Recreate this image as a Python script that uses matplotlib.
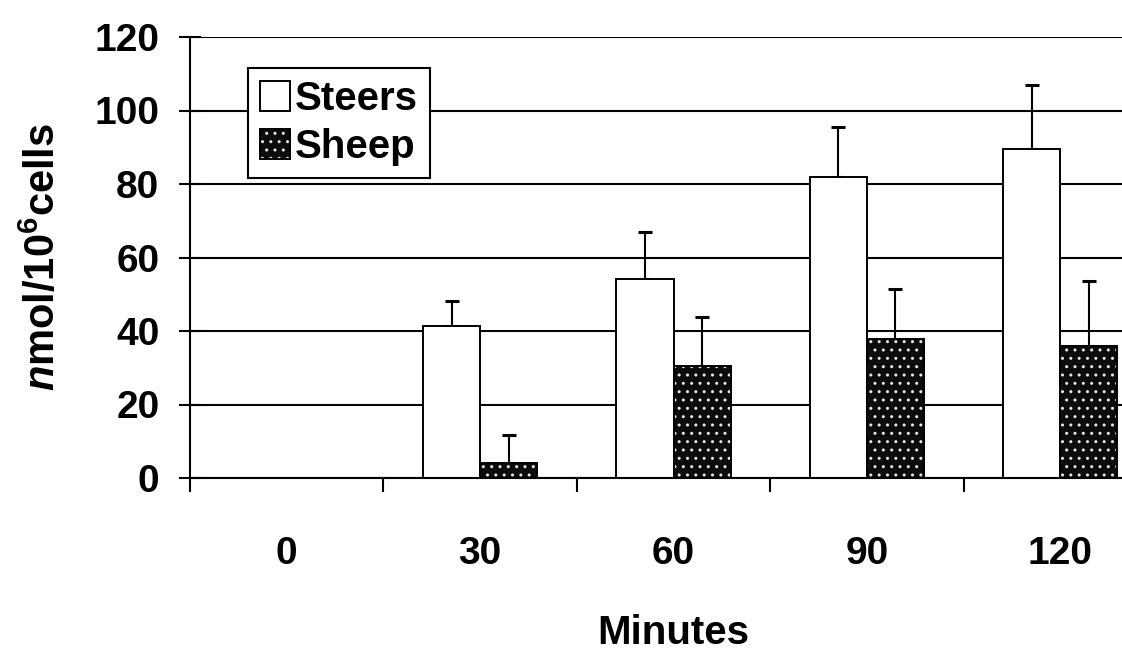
import numpy as np
import matplotlib
matplotlib.use("Agg")
import matplotlib.pyplot as plt
from matplotlib.ticker import FixedLocator

# ---- data ----
minutes = ["0", "30", "60", "90", "120"]
steers_mean = [0.0, 41.4, 54.1, 81.9, 89.5]
steers_se = [0.0, 6.8, 12.8, 13.6, 17.4]
sheep_mean = [0.0, 4.1, 30.5, 37.8, 35.9]
sheep_se = [0.0, 7.6, 13.3, 13.6, 17.7]
y_ticks = [0, 20, 40, 60, 80, 100, 120]

plt.rcParams["font.family"] = ["Liberation Sans", "DejaVu Sans"]
plt.rcParams["font.weight"] = "bold"
plt.rcParams["mathtext.fontset"] = "custom"
plt.rcParams["mathtext.rm"] = "Liberation Sans:bold"
plt.rcParams["mathtext.it"] = "Liberation Sans:italic:bold"
plt.rcParams["mathtext.bf"] = "Liberation Sans:bold"
plt.rcParams["hatch.linewidth"] = 1.0

fig = plt.figure(figsize=(11.22, 6.5), dpi=100)
# plot area runs past the right edge of the page
ax = fig.add_axes([190 / 1122, 172 / 650, 967 / 1122, 441 / 650])

x = np.arange(len(minutes))
w = 0.295
lw = 1.4

# gridlines
ax.set_axisbelow(True)
ax.yaxis.grid(True, color="black", linewidth=1.5)

# Steers: open bars
b_st = ax.bar(x - w / 2, steers_mean, w, facecolor="white", edgecolor="black",
              linewidth=lw, zorder=2)
# Sheep: dark stippled bars (texture layer + outline layer)
b_sh_tex = ax.bar(x + w / 2, sheep_mean, w, facecolor="#0c0c0c", edgecolor="#e6e6e6",
                  hatch="..", linewidth=0, zorder=2)
b_sh_out = ax.bar(x + w / 2, sheep_mean, w, facecolor="none", edgecolor="black",
                  linewidth=lw, zorder=3)

# one-sided error bars
for offs, mean, se in ((-w / 2, steers_mean, steers_se), (w / 2, sheep_mean, sheep_se)):
    idx = [i for i, s in enumerate(se) if s > 0]
    ax.errorbar(x[idx] + offs, np.array(mean)[idx],
                yerr=[np.zeros(len(idx)), np.array(se)[idx]],
                fmt="none", ecolor="black", elinewidth=1.5, capsize=4.8,
                capthick=2.2, zorder=1.5)

ax.set_xlim(-0.5, len(minutes) - 0.5)
ax.set_ylim(0, 120)
ax.set_yticks(y_ticks)
ax.set_xticks(x)
ax.set_xticklabels(minutes)
ax.xaxis.set_minor_locator(FixedLocator(np.arange(-0.5, len(minutes) - 0.5, 1.0)))

for s in ("top", "right"):
    ax.spines[s].set_visible(False)
for s in ("left", "bottom"):
    ax.spines[s].set_linewidth(1.5)

ax.tick_params(axis="x", which="major", length=0, pad=42, labelsize=28)
ax.tick_params(axis="x", which="minor", length=10, width=1.5, direction="out")
ax.tick_params(axis="y", which="major", length=16, width=1.5, direction="inout",
               pad=14, labelsize=28)
for t in ax.get_xticklabels() + ax.get_yticklabels():
    t.set_fontweight("bold")

ax.set_xlabel("Minutes", fontsize=29, fontweight="bold", labelpad=30)
ax.set_ylabel(r"$\mathit{n}$mol/10$^{6}$cells", fontsize=30, fontweight="bold",
              labelpad=22)

leg = ax.legend([b_st, (b_sh_tex, b_sh_out)], ["Steers", "Sheep"],
                loc="upper left", bbox_to_anchor=(0.06, 0.93), borderaxespad=0,
                prop={"weight": "bold", "size": 29},
                handlelength=0.75, handleheight=0.75, handletextpad=0.12,
                labelspacing=0.25, borderpad=0.3, fancybox=False, framealpha=1,
                edgecolor="black")
leg.get_frame().set_linewidth(1.5)
leg.set_zorder(5)

fig.savefig("out.png", dpi=100, facecolor="white")
